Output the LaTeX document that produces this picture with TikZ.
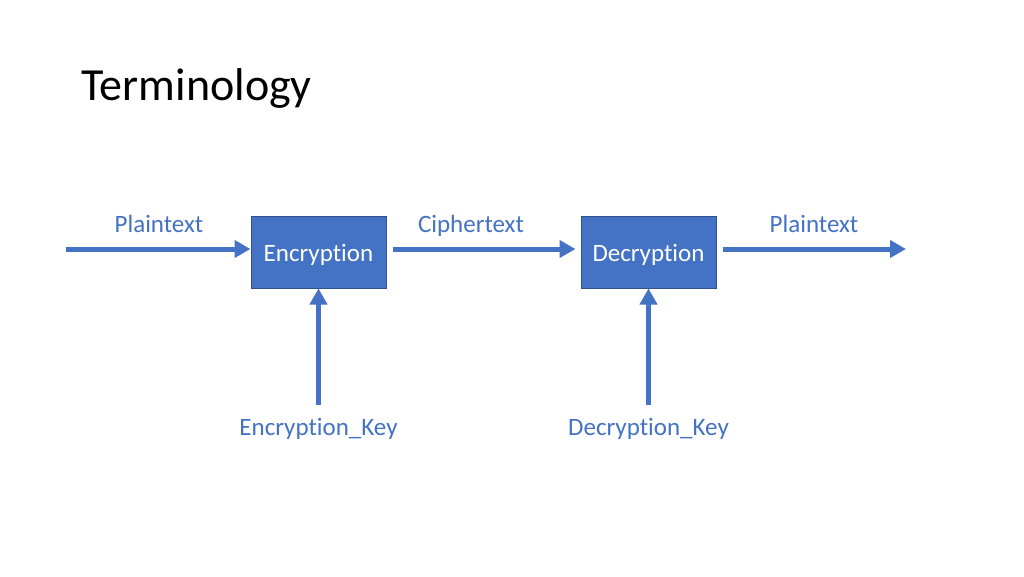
\documentclass[tikz,border=0pt]{standalone}
\usepackage{fontspec}
\setmainfont{Carlito}[Ligatures=NoCommon]
\usetikzlibrary{arrows.meta,positioning,calc}
\definecolor{TermBlue}{RGB}{68,114,196}
\definecolor{TermEdge}{RGB}{47,82,143}

\begin{document}
\begin{tikzpicture}[x=1pt, y=-1pt]
  \tikzset{
    b/.style={draw=TermEdge, line width=1pt, fill=TermBlue, minimum width=135pt, minimum height=72pt, inner sep=0pt},
    btxt/.style={anchor=base, text=white, font=\fontsize{25}{30}\selectfont},
    lbl/.style={anchor=base, text=TermBlue, font=\fontsize{25}{30}\selectfont},
    arr/.style={-{Triangle[length=16pt, width=17pt]}, line width=5pt, draw=TermBlue}
  }
  \useasboundingbox (0,0) rectangle (1024,576);
  \node[anchor=base west, font=\fontsize{46}{55}\selectfont] (title) at (78,100) {Terminology};
  % boxes
  \node[b] (enc) at (318.5,252) {};
  \node[b] (dec) at (648.5,252) {};
  \node[btxt] (enctxt) at (318.5,261) {Encryption};
  \node[btxt] (dectxt) at (648.5,261) {Decryption};
  % free ends
  \coordinate (pin) at (66,249);
  \coordinate (pout) at (906,249);
  \coordinate (ekey) at (318.5,405);
  \coordinate (dkey) at (648.5,405);
  % labels
  \node[lbl] (plain1) at (159,232) {Plaintext};
  \node[lbl] (cipher) at (471,232) {Ciphertext};
  \node[lbl] (plain2) at (814,232) {Plaintext};
  \node[lbl] (ekeytxt) at (318.5,435) {Encryption\_Key};
  \node[lbl] (dkeytxt) at (648.5,435) {Decryption\_Key};
  % arrows
  \draw[arr] (pin) -- (pin -| enc.west);
  \draw[arr] ($(pin -| enc.east)+(6,0)$) -- ($(pin -| dec.west)+(-5,0)$);
  \draw[arr] ($(pin -| dec.east)+(6,0)$) -- (pout);
  \draw[arr] (ekey) -- (enc.south);
  \draw[arr] (dkey) -- (dec.south);
\end{tikzpicture}
\end{document}
